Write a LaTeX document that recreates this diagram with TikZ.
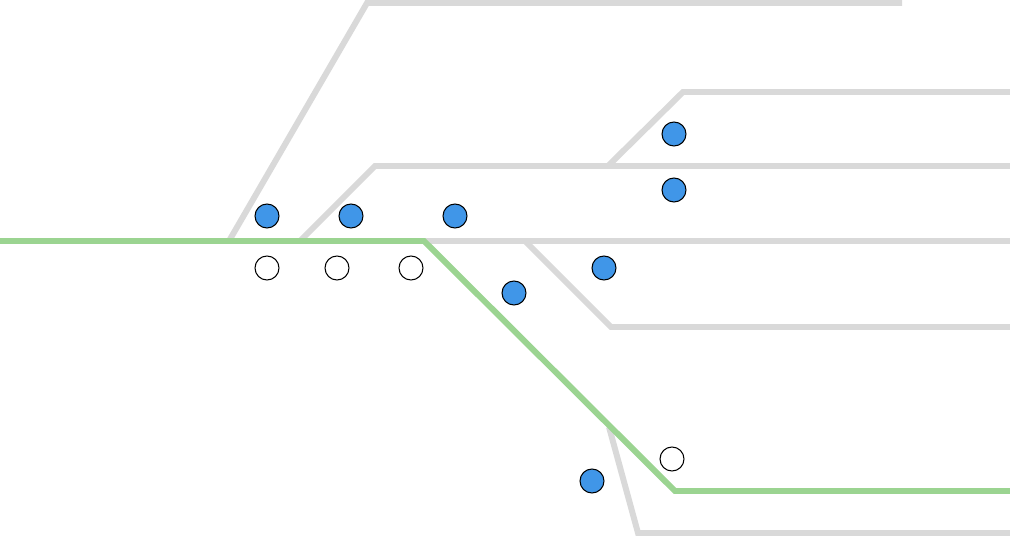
\documentclass[tikz,border=0pt]{standalone}
\usetikzlibrary{positioning}
\definecolor{trackgray}{HTML}{D9D9D9}
\definecolor{routegreen}{HTML}{9BD491}
\definecolor{signalblue}{HTML}{4096E8}
\begin{document}
\begin{tikzpicture}[x=0.02cm,y=-0.02cm,track/.style={line width=3.4pt,trackgray,line join=miter},route/.style={line width=3.4pt,routegreen},signal/.style={circle,draw=black,line width=0.6pt,minimum size=0.48cm,inner sep=0pt},on/.style={signal,fill=signalblue},off/.style={signal,fill=white}]
\useasboundingbox (0,0) rectangle (1010,540);
% tracks
\draw[track] (229,241)--(367,3)--(902,3);
\draw[track] (300,241)--(375,166)--(1010,166);
\draw[track] (608,166)--(683,92)--(1010,92);
\draw[track] (420,241)--(1010,241);
\draw[track] (525,241)--(611,327)--(1010,327);
\draw[track] (609,427)--(638,533)--(1010,533);
% active route
\draw[route] (0,241)--(424,241)--(675,491)--(1010,491);
% signals
\node[on] (s1) at (267,216) {};
\node[on] (s2) at (351,216) {};
\node[on] (s3) at (455,216) {};
\node[on] (s4) at (674,134) {};
\node[on] (s5) at (674,190) {};
\node[on] (s6) at (604,268) {};
\node[on] (s7) at (514,293) {};
\node[on] (s8) at (592,481) {};
\node[off] (w1) at (267,268) {};
\node[off] (w2) at (337,268) {};
\node[off] (w3) at (411,268) {};
\node[off] (w4) at (672,459) {};
\end{tikzpicture}
\end{document}
